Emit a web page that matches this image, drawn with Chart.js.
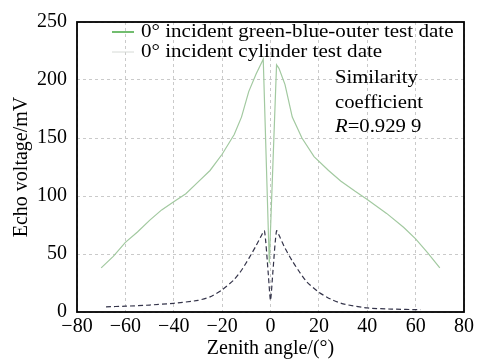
<!DOCTYPE html>
<html>
<head>
<meta charset="utf-8">
<script src="https://cdn.jsdelivr.net/npm/chart.js@4/dist/chart.umd.min.js"></script>
<style>
  html, body { margin: 0; padding: 0; background: #fff; }
  #wrap { width: 477px; height: 361px; }
</style>
</head>
<body>
<div id="wrap"><canvas id="echoChart" width="477" height="361"></canvas></div>
<script>
// green-blue-outer test data (upper curve)
const outerAngle = [-70, -65, -60, -55, -50, -45, -40, -35, -30, -25, -20, -15, -12, -9, -6, -3, -0.5, 2.5, 3.5, 6, 9, 13, 18, 24, 29, 35, 40, 44, 48, 55, 60, 65, 70];
const outerVolt = [38, 48, 60, 69, 79, 88, 95, 102, 112, 122, 136, 153, 168, 190, 205, 218, 42, 213, 210, 196, 168, 150, 134, 122, 113, 104, 97, 91, 85, 73, 63, 51, 38];

// cylinder test data (lower curve)
const cylAngle = [-68, -60, -50, -40, -30, -25, -20, -15, -12, -9, -6, -4, -2.5, -1, 0, 1, 2.5, 4, 6, 9, 11.5, 15, 20, 25, 30, 40, 50, 62];
const cylVolt = [4.5, 5, 6, 7.5, 10, 13, 19, 28, 36, 46, 57, 65, 70, 35, 10, 35, 70, 64, 55, 44, 36, 26, 17, 11, 7, 3.5, 2.5, 2];

const xTicks = [-80, -60, -40, -20, 0, 20, 40, 60, 80];
const yTicks = [0, 50, 100, 150, 200, 250];

const seriesNames = ['0\u00b0 incident green-blue-outer test date', '0\u00b0 incident cylinder test date'];

const serif = '"Liberation Serif", "Times New Roman", serif';

function toPoints(xs, ys) {
  return xs.map((x, i) => ({ x: x, y: ys[i] }));
}

// text in the source is a little wider than it is tall
function wideText(ctx, text, x, y, sx) {
  ctx.save();
  ctx.translate(x, y);
  ctx.scale(sx, 1);
  ctx.fillText(text, 0, 0);
  const w = ctx.measureText(text).width * sx;
  ctx.restore();
  return w;
}

// frame, legend and the similarity note
const overlay = {
  id: 'overlay',
  afterDraw(chart) {
    const ctx = chart.ctx;
    const a = chart.chartArea;
    ctx.save();
    ctx.setLineDash([]);
    ctx.strokeStyle = '#000';
    ctx.lineWidth = 1.8;
    ctx.strokeRect(a.left, a.top, a.right - a.left, a.bottom - a.top);

    // legend
    ctx.font = '18px ' + serif;
    ctx.textBaseline = 'middle';
    ctx.fillStyle = '#000';
    ctx.lineWidth = 2;
    ctx.strokeStyle = '#72bd6f';
    ctx.beginPath(); ctx.moveTo(112, 32); ctx.lineTo(134, 32); ctx.stroke();
    wideText(ctx, seriesNames[0], 141, 32, 1.17);
    ctx.lineWidth = 1;
    ctx.strokeStyle = '#d6dad6';
    ctx.beginPath(); ctx.moveTo(112, 52); ctx.lineTo(134, 52); ctx.stroke();
    wideText(ctx, seriesNames[1], 141, 52, 1.17);

    // note
    wideText(ctx, 'Similarity', 335, 78, 1.15);
    wideText(ctx, 'coefficient', 335, 103, 1.15);
    ctx.font = 'italic 18px ' + serif;
    const rw = wideText(ctx, 'R', 335, 127, 1.15);
    ctx.font = '18px ' + serif;
    wideText(ctx, '=0.929 9', 335 + rw, 127, 1.15);
    ctx.restore();
  }
};

new Chart(document.getElementById('echoChart').getContext('2d'), {
  type: 'line',
  data: {
    datasets: [{
      label: seriesNames[0],
      data: toPoints(outerAngle, outerVolt),
      borderColor: '#a2c9a0',
      borderWidth: 1.2,
      pointRadius: 0,
      tension: 0,
      fill: false
    }, {
      label: seriesNames[1],
      data: toPoints(cylAngle, cylVolt),
      borderColor: '#34344a',
      borderWidth: 1.2,
      borderDash: [5, 3],
      pointRadius: 0,
      tension: 0.2,
      fill: false
    }]
  },
  options: {
    responsive: false,
    animation: false,
    layout: { padding: { top: 20, right: 10, left: 0, bottom: 0 } },
    plugins: {
      legend: { display: false },
      tooltip: { enabled: false }
    },
    scales: {
      x: {
        type: 'linear',
        min: -80,
        max: 80,
        afterBuildTicks: (s) => { s.ticks = xTicks.map(v => ({ value: v })); },
        afterFit: (s) => { s.height = 49; },
        ticks: {
          color: '#000',
          padding: 3,
          font: { family: serif, size: 20 },
          callback: (v) => (v < 0 ? '\u2212' + Math.abs(v) : String(v))
        },
        grid: { color: '#cacaca', lineWidth: 1, drawTicks: false },
        border: { display: false, dash: [3, 3] },
        title: {
          display: true,
          text: 'Zenith angle/(\u00b0)',
          color: '#000',
          font: { family: serif, size: 20, lineHeight: 1.2 },
          padding: { top: 0, bottom: 0 }
        }
      },
      y: {
        min: 0,
        max: 250,
        afterBuildTicks: (s) => { s.ticks = yTicks.map(v => ({ value: v })); },
        afterFit: (s) => { s.width = 77; },
        ticks: {
          color: '#000',
          padding: 10,
          font: { family: serif, size: 20 }
        },
        grid: { color: '#cacaca', lineWidth: 1, drawTicks: false },
        border: { display: false, dash: [3, 3] },
        title: {
          display: true,
          text: 'Echo voltage/mV',
          color: '#000',
          font: { family: serif, size: 20, lineHeight: 1.2 },
          padding: { top: 10, bottom: 0 }
        }
      }
    }
  },
  plugins: [overlay]
});
</script>
</body>
</html>
